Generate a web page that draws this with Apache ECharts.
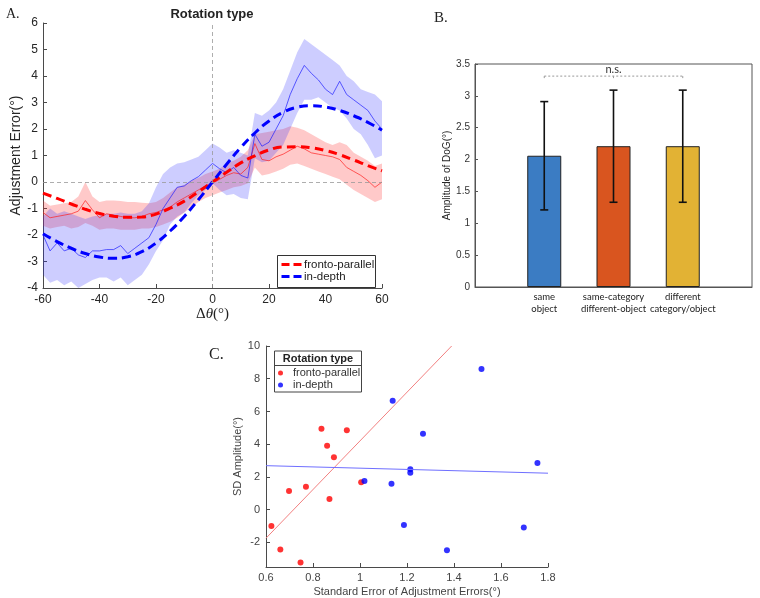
<!DOCTYPE html>
<html><head><meta charset="utf-8">
<script src="https://cdn.jsdelivr.net/npm/echarts@6/dist/echarts.min.js"></script>
<style>html,body{margin:0;padding:0;background:#fff}#c{width:760px;height:598px}</style>
</head><body><div id="c"></div>
<script>
// ---------- Panel A data ----------
const thetaA = [-60,-57.5,-55,-52.5,-50,-47.5,-45,-42.5,-40,-37.5,-35,-32.5,-30,-27.5,-25,-22.5,-20,-17.5,-15,-12.5,-10,-7.5,-5,-2.5,0,2.5,5,7.5,10,12.5,15,17.5,20,22.5,25,27.5,30,32.5,35,37.5,40,42.5,45,47.5,50,52.5,55,57.5,60];
const fpMean  = [-1.15,-1.35,-1.3,-1.25,-1.2,-1.1,-0.7,-1.05,-1.35,-1.2,-1.25,-1.3,-1.35,-1.35,-1.3,-1.2,-1.15,-1.05,-0.95,-0.75,-0.6,-0.45,-0.3,-0.15,-0.05,0.1,0.25,0.35,0.3,0.55,1.45,0.85,0.8,0.95,1.05,1.2,1.35,1.25,1.1,1.05,1.0,0.95,0.85,0.55,0.4,0.25,0.05,-0.2,0.0];
const fpUpper = [-0.7,-0.9,-0.85,-0.8,-0.75,-0.55,0.0,-0.55,-0.75,-0.7,-0.7,-0.72,-0.75,-0.75,-0.78,-0.8,-0.75,-0.6,-0.4,-0.2,-0.1,0.05,0.15,0.3,0.4,0.5,0.7,0.8,0.95,1.2,1.8,1.85,1.9,1.95,2.0,2.1,2.05,1.95,1.8,1.65,1.5,1.4,1.5,1.4,1.1,0.95,0.8,0.6,0.7];
const fpLower = [-1.65,-1.75,-1.7,-1.65,-1.75,-1.7,-1.55,-1.65,-1.8,-1.75,-1.75,-1.8,-1.8,-1.8,-1.75,-1.75,-1.7,-1.6,-1.5,-1.35,-1.15,-0.95,-0.75,-0.6,-0.5,-0.4,-0.3,-0.2,-0.15,-0.05,0.55,0.25,0.3,0.4,0.5,0.65,0.7,0.6,0.5,0.4,0.3,0.2,0.1,-0.1,-0.3,-0.45,-0.6,-0.75,-0.65];
const idMean  = [-2.0,-2.6,-2.3,-2.6,-2.5,-2.75,-2.85,-2.6,-2.6,-2.55,-2.55,-2.4,-2.7,-2.5,-2.3,-2.1,-1.6,-1.0,-0.6,-0.2,-0.15,0.05,0.2,0.45,0.7,0.5,0.35,0.55,0.25,0.15,1.8,1.35,1.5,2.0,2.5,3.3,3.9,4.4,4.1,3.85,3.5,3.3,3.8,3.3,3.1,2.9,2.7,2.3,2.0];
const idUpper = [-1.3,-1.0,-1.2,-1.1,-1.2,-1.3,-1.4,-1.3,-1.25,-1.2,-1.2,-1.15,-1.2,-1.2,-1.1,-0.8,-0.2,0.3,0.55,0.7,0.75,0.85,0.95,1.2,1.45,1.3,1.1,1.2,1.1,1.0,2.6,2.5,2.7,3.0,3.5,4.2,4.9,5.4,5.2,5.0,4.8,4.6,4.4,4.0,3.8,3.5,3.4,3.3,3.05];
const idLower = [-3.5,-3.8,-3.7,-3.9,-3.75,-4.0,-3.85,-3.7,-3.6,-3.6,-3.75,-3.6,-3.9,-3.7,-3.5,-3.1,-2.6,-2.2,-1.6,-1.3,-1.15,-0.8,-0.5,-0.3,-0.05,-0.3,-0.5,-0.45,-0.6,-0.65,0.9,0.75,0.8,1.1,1.4,2.0,2.6,3.1,3.1,3.2,3.0,2.8,2.7,2.4,2.0,1.8,1.4,0.9,1.0];
const fitX  = [-60,-55,-50,-45,-40,-35,-30,-25,-20,-15,-10,-5,0,5,10,15,20,25,30,35,40,45,50,55,60];
const fpFit = [-0.42,-0.62,-0.83,-1.03,-1.19,-1.29,-1.33,-1.32,-1.21,-0.99,-0.72,-0.37,0,0.37,0.72,0.99,1.21,1.32,1.33,1.29,1.19,1.03,0.83,0.62,0.42];
const idFit = [-1.95,-2.25,-2.5,-2.7,-2.83,-2.88,-2.82,-2.63,-2.3,-1.85,-1.3,-0.67,0,0.67,1.3,1.85,2.3,2.63,2.82,2.88,2.83,2.7,2.5,2.25,1.95];
const legendA = ['fronto-parallel', 'in-depth'];

// ---------- Panel B data ----------
const conditions = ['same\nobject','same-category\ndifferent-object','different\ncategory/object'];
const amplitude = [2.06, 2.21, 2.21];
const errLow  = [1.21, 1.33, 1.33];
const errHigh = [2.91, 3.09, 3.09];
const barColors = ['#3B7CC3','#D9551F','#E2B234'];
const bracketCats = [1, 2, 3];
const bracketTop = 3.31, bracketFoot = 3.25, nsLabelY = 3.41;

// ---------- Panel C data ----------
const fpSE = [0.623,0.661,0.747,0.698,0.770,0.836,0.860,0.889,0.870,0.944,1.005];
const fpSD = [-0.99,-2.43,-3.22,1.15,1.40,4.94,3.91,3.20,0.65,4.86,1.68];
const idSE = [1.019,1.139,1.134,1.187,1.214,1.214,1.268,1.370,1.517,1.697,1.755];
const idSD = [1.76,6.66,1.58,-0.93,2.47,2.25,4.64,-2.47,8.60,-1.09,2.85];
const fpLineX = [0.6, 1.39], fpLineY = [-1.74, 10];
const idLineX = [0.6, 1.8],  idLineY = [2.69, 2.23];
const yTicksC = [-2,0,2,4,6,8,10];

// ---------- helpers ----------
const zip = (xs, ys) => xs.map((x, i) => [x, ys[i]]);
const SANS = 'Liberation Sans, Arial, sans-serif';
const SERIF = 'Liberation Serif, DejaVu Serif, serif';
const AX = '#4a4a4a';

function bandSeries(name, lo, hi, color) {
  return {
    type: 'custom', name: name, xAxisIndex: 0, yAxisIndex: 0, silent: true, clip: true, z: 1,
    encode: {x: 0, y: [1, 2]},
    data: thetaA.map((x, i) => [x, lo[i], hi[i]]),
    renderItem: function (params, api) {
      if (params.dataIndex !== 0) return null;
      const pts = [];
      for (let i = 0; i < thetaA.length; i++) pts.push(api.coord([thetaA[i], hi[i]]));
      for (let i = thetaA.length - 1; i >= 0; i--) pts.push(api.coord([thetaA[i], lo[i]]));
      return {type: 'polygon', shape: {points: pts}, style: {fill: color}};
    }
  };
}

const chart = echarts.init(document.getElementById('c'), null, {renderer: 'canvas'});

const option = {
  animation: false,
  backgroundColor: '#fff',
  title: [
    {text: 'A.', left: 1, top: 2, textStyle: {fontFamily: SERIF, fontSize: 14, fontWeight: 'normal', color: '#222'}},
    {text: 'B.', left: 429, top: 6, textStyle: {fontFamily: SERIF, fontSize: 15, fontWeight: 'normal', color: '#222'}},
    {text: 'C.', left: 204, top: 342, textStyle: {fontFamily: SERIF, fontSize: 16, fontWeight: 'normal', color: '#222'}}
  ],
  grid: [
    {left: 43, top: 23, width: 339, height: 265},
    {left: 475, top: 64, width: 277, height: 223, show: true, borderColor: '#555', borderWidth: 1},
    {left: 266, top: 346, width: 282, height: 222}
  ],
  xAxis: [
    {gridIndex: 0, type: 'value', min: -60, max: 60, interval: 20,
     name: '{d|Δ}{t|θ}{d|(°)}', nameLocation: 'middle', nameGap: 19,
     nameTextStyle: {rich: {d: {fontFamily: SERIF, fontSize: 15, color: '#222'}, t: {fontFamily: SERIF, fontSize: 15, fontStyle: 'italic', color: '#222'}}},
     axisLine: {onZero: false, lineStyle: {color: AX}}, axisTick: {inside: true, length: 4, lineStyle: {color: AX}},
     axisLabel: {fontFamily: SANS, fontSize: 12, color: '#262626', margin: 6}, splitLine: {show: false}},
    {gridIndex: 1, type: 'category', boundaryGap: false, data: ['', ...conditions, ''],
     axisLine: {lineStyle: {color: '#555'}}, axisTick: {show: false},
     axisLabel: {interval: 0, fontFamily: 'Lato, Open Sans, sans-serif', fontSize: 9.5, lineHeight: 12, color: '#222', margin: 4}},
    {gridIndex: 2, type: 'value', min: 0.6, max: 1.8, interval: 0.2,
     name: 'Standard Error of Adjustment Errors(°)', nameLocation: 'middle', nameGap: 19,
     nameTextStyle: {fontFamily: SANS, fontSize: 11, color: '#444'},
     axisLine: {onZero: false, lineStyle: {color: AX}}, axisTick: {inside: true, length: 4, lineStyle: {color: AX}},
     axisLabel: {fontFamily: SANS, fontSize: 11, color: '#444', margin: 5}, splitLine: {show: false}}
  ],
  yAxis: [
    {gridIndex: 0, type: 'value', min: -4, max: 6, interval: 1,
     name: 'Adjustment Error(°)', nameLocation: 'middle', nameGap: 17, nameRotate: 90,
     nameTextStyle: {fontFamily: SANS, fontSize: 14, color: '#262626'},
     axisLine: {show: true, onZero: false, lineStyle: {color: AX}}, axisTick: {show: true, inside: true, length: 4, lineStyle: {color: AX}},
     axisLabel: {fontFamily: SANS, fontSize: 12, color: '#262626', margin: 5}, splitLine: {show: false}},
    {gridIndex: 1, type: 'value', min: 0, max: 3.5, interval: 0.5,
     name: 'Amplitude of DoG(°)', nameLocation: 'middle', nameGap: 10, nameRotate: 90,
     nameTextStyle: {fontFamily: SANS, fontSize: 10, color: '#262626'},
     axisLine: {show: true, onZero: false, lineStyle: {color: '#555'}}, axisTick: {show: true, inside: true, length: 3, lineStyle: {color: '#555'}},
     axisLabel: {fontFamily: SANS, fontSize: 10, color: '#333', margin: 5}, splitLine: {show: false}},
    {gridIndex: 2, type: 'value', min: -3.5, max: 10,
     name: 'SD Amplitude(°)', nameLocation: 'middle', nameGap: 19, nameRotate: 90,
     nameTextStyle: {fontFamily: SANS, fontSize: 11, color: '#444'},
     axisLine: {show: true, onZero: false, lineStyle: {color: AX}},
     axisTick: {show: true, inside: true, length: 4, customValues: yTicksC, lineStyle: {color: AX}},
     axisLabel: {fontFamily: SANS, fontSize: 11, color: '#444', margin: 6, customValues: yTicksC}, splitLine: {show: false}}
  ],
  legend: [
    {data: ['C:fronto-parallel', 'C:in-depth'], orient: 'vertical', left: 278, top: 367,
     padding: 0, itemGap: 0, itemWidth: 15, itemHeight: 5, icon: 'circle',
     formatter: n => n.slice(2),
     textStyle: {fontFamily: SANS, fontSize: 11, color: '#333', lineHeight: 12}}
  ],
  graphic: [
    {type: 'text', style: {text: 'Rotation type', x: 212, y: 14, align: 'center', verticalAlign: 'middle', font: 'bold 13px Liberation Sans, Arial, sans-serif', fill: '#222'}},
    // legend box of panel A
    {type: 'rect', z: 50, shape: {x: 277.5, y: 255.5, width: 98, height: 32}, style: {fill: '#fff', stroke: '#333', lineWidth: 1}},
    {type: 'line', z: 51, shape: {x1: 281.5, y1: 264.5, x2: 301.5, y2: 264.5}, style: {stroke: '#ff0000', lineWidth: 3, lineDash: [8, 4]}},
    {type: 'line', z: 51, shape: {x1: 281.5, y1: 276.5, x2: 301.5, y2: 276.5}, style: {stroke: '#0000ff', lineWidth: 3, lineDash: [8, 4]}},
    {type: 'text', z: 51, style: {text: legendA[0], x: 304, y: 264.5, verticalAlign: 'middle', font: '11.5px Liberation Sans, Arial, sans-serif', fill: '#222'}},
    {type: 'text', z: 51, style: {text: legendA[1], x: 304, y: 276.5, verticalAlign: 'middle', font: '11.5px Liberation Sans, Arial, sans-serif', fill: '#222'}},
    // legend box of panel C
    {type: 'rect', shape: {x: 274.5, y: 351, width: 87, height: 41}, style: {fill: 'none', stroke: '#444', lineWidth: 1}},
    {type: 'line', shape: {x1: 274.5, y1: 365.5, x2: 361.5, y2: 365.5}, style: {stroke: '#444', lineWidth: 1}},
    {type: 'text', style: {text: 'Rotation type', x: 318, y: 358.5, align: 'center', verticalAlign: 'middle', font: 'bold 11px Liberation Sans, Arial, sans-serif', fill: '#222'}}
  ],
  series: [
    // ---- Panel A bands ----
    bandSeries('fp-band', fpLower, fpUpper, 'rgba(255,40,40,0.25)'),
    bandSeries('id-band', idLower, idUpper, 'rgba(40,40,255,0.23)'),
    // ---- Panel A mean lines ----
    {type: 'line', name: 'fp-mean', xAxisIndex: 0, yAxisIndex: 0, data: zip(thetaA, fpMean), symbol: 'none', silent: true,
     lineStyle: {color: '#ff2020', width: 0.7},
     markLine: {silent: true, symbol: ['none', 'none'], label: {show: false},
       lineStyle: {color: '#999', type: [4, 3], width: 0.8}, data: [{xAxis: 0}, {yAxis: 0}]}},
    {type: 'line', name: 'id-mean', xAxisIndex: 0, yAxisIndex: 0, data: zip(thetaA, idMean), symbol: 'none', silent: true,
     lineStyle: {color: '#2020ff', width: 0.7}},
    // ---- Panel A fits ----
    {type: 'line', name: legendA[0], xAxisIndex: 0, yAxisIndex: 0, data: zip(fitX, fpFit), smooth: true, symbol: 'none', color: '#ff0000',
     lineStyle: {color: '#ff0000', width: 3, type: [9, 5]}},
    {type: 'line', name: legendA[1], xAxisIndex: 0, yAxisIndex: 0, data: zip(fitX, idFit), smooth: true, symbol: 'none', color: '#0000ff',
     lineStyle: {color: '#0000ff', width: 3, type: [9, 5]}},
    // ---- Panel B ----
    {type: 'bar', name: 'amplitude', xAxisIndex: 1, yAxisIndex: 1, barWidth: 34, z: 2,
     data: ['-', ...amplitude.map((v, i) => ({value: v, itemStyle: {color: barColors[i]}})), '-'],
     itemStyle: {borderColor: '#222', borderWidth: 1}},
    {type: 'custom', name: 'err', xAxisIndex: 1, yAxisIndex: 1, z: 10, encode: {x: 0, y: [1, 2]},
     data: amplitude.map((v, i) => [i + 1, errLow[i], errHigh[i]]),
     renderItem: function (params, api) {
       const x = api.value(0);
       const lo = api.coord([x, api.value(1)]), hi = api.coord([x, api.value(2)]);
       const w = 4, st = {stroke: '#111', lineWidth: 1.6};
       return {type: 'group', children: [
         {type: 'line', shape: {x1: lo[0], y1: lo[1], x2: hi[0], y2: hi[1]}, style: st},
         {type: 'line', shape: {x1: lo[0] - w, y1: lo[1], x2: lo[0] + w, y2: lo[1]}, style: st},
         {type: 'line', shape: {x1: hi[0] - w, y1: hi[1], x2: hi[0] + w, y2: hi[1]}, style: st}
       ]};
     }},
    {type: 'custom', name: 'ns', xAxisIndex: 1, yAxisIndex: 1, z: 10, encode: {x: 0, y: 1},
     data: [[bracketCats[1], bracketTop]],
     renderItem: function (params, api) {
       const st = {stroke: '#999', lineWidth: 1, lineDash: [2, 2]};
       const a = api.coord([bracketCats[0], bracketTop]), b = api.coord([bracketCats[2], bracketTop]);
       const kids = [{type: 'line', shape: {x1: a[0], y1: a[1], x2: b[0], y2: b[1]}, style: st}];
       bracketCats.forEach(c => {
         const p = api.coord([c, bracketTop]), q = api.coord([c, bracketFoot]);
         kids.push({type: 'line', shape: {x1: p[0], y1: p[1], x2: q[0], y2: q[1]}, style: st});
       });
       const t = api.coord([bracketCats[1], nsLabelY]);
       kids.push({type: 'text', style: {text: 'n.s.', x: t[0], y: t[1], align: 'center', verticalAlign: 'middle', font: '11px Lato, Open Sans, sans-serif', fill: '#333'}});
       return {type: 'group', children: kids};
     }},
    // ---- Panel C ----
    {type: 'line', name: 'C-fp-fit', xAxisIndex: 2, yAxisIndex: 2, data: zip(fpLineX, fpLineY), symbol: 'none', silent: true,
     lineStyle: {color: '#f28080', width: 1}},
    {type: 'line', name: 'C-id-fit', xAxisIndex: 2, yAxisIndex: 2, data: zip(idLineX, idLineY), symbol: 'none', silent: true,
     lineStyle: {color: '#6f6fff', width: 1}},
    {type: 'scatter', name: 'C:fronto-parallel', xAxisIndex: 2, yAxisIndex: 2, data: zip(fpSE, fpSD), symbolSize: 6, itemStyle: {color: '#ff0000'}},
    {type: 'scatter', name: 'C:in-depth', xAxisIndex: 2, yAxisIndex: 2, data: zip(idSE, idSD), symbolSize: 6, itemStyle: {color: '#0000ff'}}
  ]
};
chart.setOption(option);
</script></body></html>
